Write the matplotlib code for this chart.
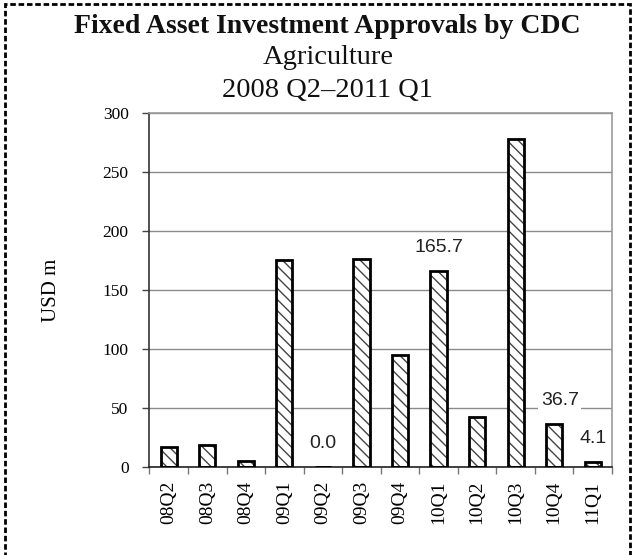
import matplotlib.pyplot as plt
from matplotlib.patches import Rectangle

# data
quarters = ['08Q2', '08Q3', '08Q4', '09Q1', '09Q2', '09Q3',
            '09Q4', '10Q1', '10Q2', '10Q3', '10Q4', '11Q1']
usd_m = [17.0, 19.0, 5.0, 175.5, 0.0, 176.0,
         94.5, 165.7, 42.0, 278.0, 36.7, 4.1]
labelled = ['09Q2', '10Q1', '10Q4', '11Q1']
yticks = [0, 50, 100, 150, 200, 250, 300]

serif = 'Liberation Serif'
sans = 'Liberation Sans'

fig = plt.figure(figsize=(6.34, 5.55), dpi=100)
ax = fig.add_axes([0.2358, 0.1586, 0.7295, 0.6378])

x = list(range(len(quarters)))
# hatched fill first, then a thick black outline on top
ax.bar(x, usd_m, width=0.42, color='white', edgecolor='#444444',
       hatch='\\\\\\', linewidth=0, zorder=2)
ax.bar(x, usd_m, width=0.42, color='none', edgecolor='black',
       linewidth=2, zorder=3)

# data labels
for q in labelled:
    i = quarters.index(q)
    v = usd_m[i]
    dx = 0.0
    if q == '10Q4':
        dx = 4
    ax.annotate('%.1f' % v, (i, v), xytext=(dx, 17),
                textcoords='offset points', ha='center', va='center',
                fontsize=14, family=sans, color='#222222', zorder=5,
                annotation_clip=False,
                bbox=dict(facecolor='white', edgecolor='none', pad=2))

ax.set_xlim(-0.5, len(quarters) - 0.5)
ax.set_ylim(0, 300)
ax.set_yticks(yticks)
ax.yaxis.grid(True, color='#8a8a8a', linewidth=1)
ax.set_axisbelow(True)

ax.set_xticks(x)
ax.set_xticklabels(quarters, rotation=90, family=serif, fontsize=14)
ax.set_xticks([i - 0.5 for i in range(len(quarters) + 1)], minor=True)
ax.tick_params(axis='x', which='major', length=0, pad=10)
ax.tick_params(axis='x', which='minor', length=5, color='#777777', width=1)
ax.tick_params(axis='y', length=5, color='#444444', width=1, pad=10)
for lab in ax.get_yticklabels():
    lab.set_family(serif)
    lab.set_fontsize(12.5)

ax.spines['top'].set_color('#999999')
ax.spines['right'].set_color('#999999')
ax.spines['left'].set_color('#333333')
ax.spines['bottom'].set_color('#222222')
for s in ax.spines.values():
    s.set_linewidth(1.2)

ax.set_ylabel('USD m', family=serif, fontsize=15, labelpad=30)

fig.text(0.517, 0.9405, 'Fixed Asset Investment Approvals by CDC',
         ha='center', va='baseline', family=serif, fontsize=20,
         fontweight='bold', color='#111111')
fig.text(0.517, 0.8847, 'Agriculture', ha='center', va='baseline',
         family=serif, fontsize=20.5, color='#111111')
fig.text(0.517, 0.8252, '2008 Q2\u20132011 Q1', ha='center', va='baseline',
         family=serif, fontsize=20.5, color='#111111')

# dashed frame round the chart (open at the bottom)
fig.patches.append(Rectangle((0.008, -0.05), 0.986, 1.043,
                             transform=fig.transFigure, fill=False,
                             edgecolor='black', linewidth=2,
                             linestyle=(0, (2, 1))))

fig.savefig('out.png', dpi=100)
